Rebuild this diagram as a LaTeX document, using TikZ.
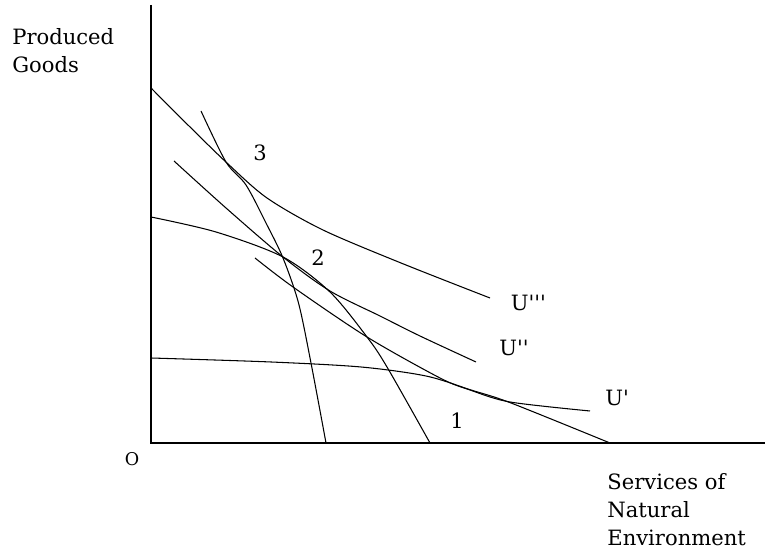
\documentclass[tikz,border=0pt]{standalone}
\usepackage{fontspec}
\setmainfont{DejaVu Serif}
\usetikzlibrary{positioning}
\newcommand{\uq}{\textquotesingle}

\begin{document}
\begin{tikzpicture}[
  curve/.style={line width=0.6pt},
  lbl/.style={font=\fontsize{12}{16}\selectfont, inner sep=0pt}]
\useasboundingbox (-3.02,-2.18) rectangle (12.28,8.86);
\coordinate (O) at (0,0);
\coordinate (ytop) at (0,8.76);
\coordinate (xend) at (12.28,0);
\draw[line width=0.9pt] (ytop) -- (O) -- (xend);
% production possibility curves
\draw[curve] plot[smooth, tension=0.5] coordinates {(1.00,6.64) (1.50,5.62) (1.90,5.16) (2.30,4.40) (2.64,3.70) (2.95,2.80) (3.20,1.60) (3.50,0)};
\draw[curve] plot[smooth, tension=0.5] coordinates {(0,4.52) (1.30,4.22) (2.64,3.72) (3.58,3.02) (4.32,2.12) (4.72,1.52) (5.58,0)};
\draw[curve] plot[smooth, tension=0.5] coordinates {(0,1.70) (2.40,1.62) (4.20,1.52) (5.50,1.34) (6.40,1.06) (7.20,0.80) (9.18,0)};
% indifference curves
\draw[curve] plot[smooth, tension=0.5] coordinates {(0,7.10) (0.78,6.32) (1.52,5.60) (2.32,4.90) (3.44,4.26) (5.00,3.60) (6.78,2.90)};
\draw[curve] plot[smooth, tension=0.5] coordinates {(0.46,5.64) (1.50,4.70) (2.64,3.72) (3.58,3.04) (4.58,2.54) (5.38,2.14) (6.50,1.62)};
\draw[curve] plot[smooth, tension=0.5] coordinates {(2.08,3.70) (2.84,3.12) (4.32,2.12) (5.78,1.30) (6.38,1.06) (7.18,0.82) (8.78,0.64)};
\node[lbl, font=\fontsize{10}{12}\selectfont] (o) at (-0.38,-0.32) {O};
\node[lbl, anchor=north west, align=left] (ylab) at (-2.78,8.30) {Produced\\Goods};
\node[lbl, anchor=north west, align=left] (xlab) at (9.12,-0.60) {Services of\\Natural\\Environment};
\foreach \n/\x/\y/\t in {p3/2.18/5.80/3, p2/3.34/3.70/2, p1/6.12/0.44/1}
  \node[lbl] (\n) at (\x,\y) {\t};
\foreach \n/\x/\y/\t in {u3/7.19/2.80/U\uq\uq\uq, u2/6.96/1.90/U\uq\uq, u1/9.08/0.90/U\uq}
  \node[lbl, anchor=west] (\n) at (\x,\y) {\t};
\end{tikzpicture}
\end{document}
